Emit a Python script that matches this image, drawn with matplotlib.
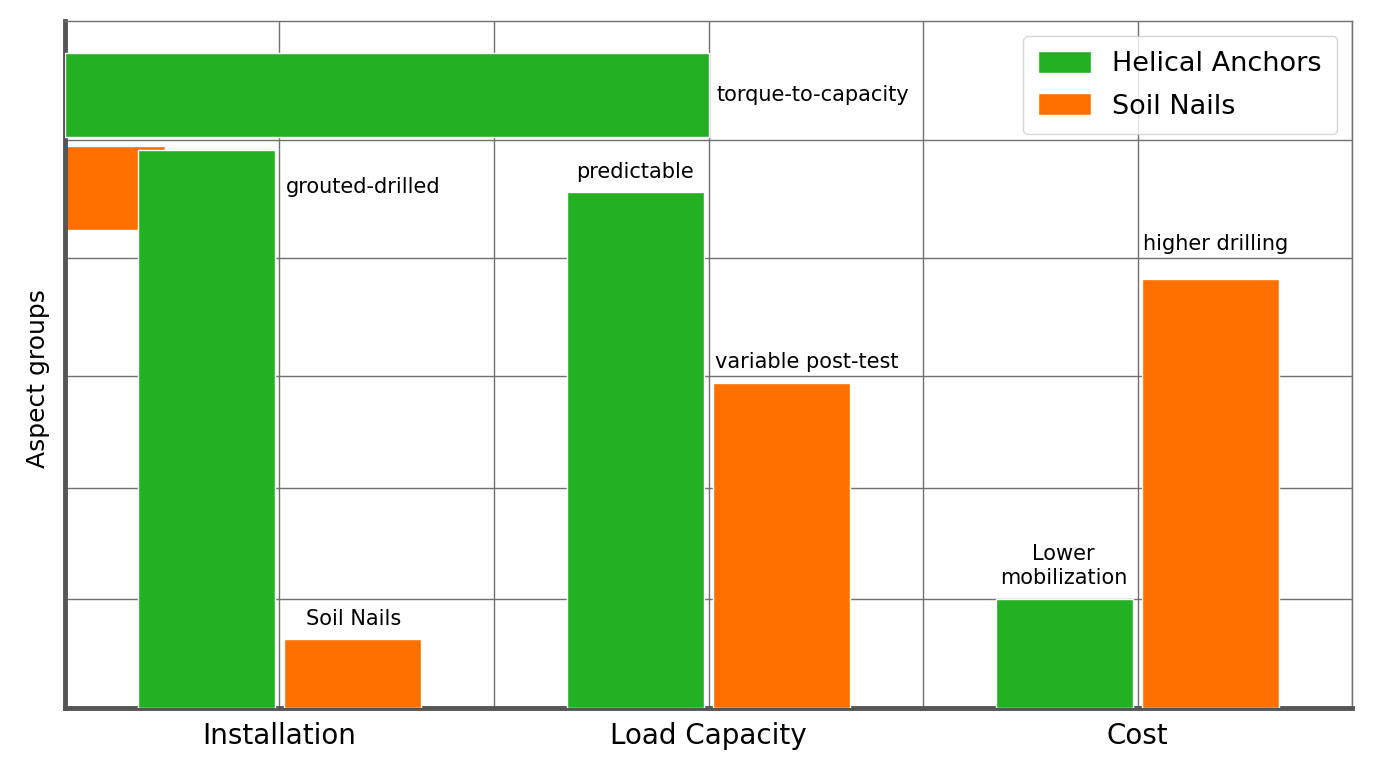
import numpy as np
import matplotlib.pyplot as plt

categories = ['Installation', 'Load Capacity', 'Cost']
helical = [5.07, 4.69, 0.99]
soil_nails = [0.63, 2.95, 3.90]

# horizontal bars that sit across the top of the plot
hbar_y = [5.57, 4.73]
hbar_len = [1.5, 0.234]

grid_y = [0.99, 2.0, 3.02, 4.09, 5.16]

notes = [
    ('grouted-drilled', 0.016, 4.74, 'left'),
    ('torque-to-capacity', 1.019, 5.57, 'left'),
    ('Soil Nails', 0.172, 0.81, 'center'),
    ('predictable', 0.828, 4.87, 'center'),
    ('variable post-test', 1.014, 3.145, 'left'),
    ('Lower\nmobilization', 1.827, 1.29, 'center'),
    ('higher drilling', 2.012, 4.22, 'left'),
]

green = '#23b023'
orange = '#ff7000'

fig = plt.figure(figsize=(13.76, 7.68), dpi=100)
ax = fig.add_axes([0.0472, 0.0781, 0.9354, 0.8946])

x = np.arange(len(categories))
w = 0.32
off = 0.17

ax.barh(hbar_y[1], hbar_len[1], height=0.764, left=-0.5, color=orange, edgecolor='white', linewidth=1, zorder=2)
ax.bar(x - off, helical, w, color=green, edgecolor='white', linewidth=1, label='Helical Anchors', zorder=3)
ax.bar(x + off, soil_nails, w, color=orange, edgecolor='white', linewidth=1, label='Soil Nails', zorder=3)
ax.barh(hbar_y[0], hbar_len[0], height=0.764, left=-0.5, color=green, edgecolor='white', linewidth=1, zorder=3)

for txt, tx, ty, ha in notes:
    ax.text(tx, ty, txt, ha=ha, va='center', fontsize=15, zorder=4)

ax.set_xlim(-0.5, 2.5)
ax.set_ylim(0, 6.245)
ax.set_xticks(x)
ax.set_xticklabels(categories, fontsize=20)
ax.set_xticks(np.arange(-0.5, 2.6, 0.5), minor=True)
ax.set_yticks(grid_y)
ax.set_yticklabels([])
ax.tick_params(which='both', length=0, pad=10)
ax.grid(True, which='both', color='#707070', linewidth=1, zorder=0)
ax.set_axisbelow(True)
ax.set_ylabel('Aspect groups', fontsize=18)
ax.yaxis.set_label_coords(-0.0117, 0.479)

for s in ['left', 'bottom']:
    ax.spines[s].set_linewidth(3.5)
    ax.spines[s].set_color('#555555')
for s in ['top', 'right']:
    ax.spines[s].set_linewidth(1)
    ax.spines[s].set_color('#707070')

ax.legend(loc='upper right', fontsize=19.5, handlelength=1.95, handleheight=0.85,
          labelspacing=0.6, borderpad=0.55, borderaxespad=0,
          bbox_to_anchor=(0.9883, 0.978))

fig.savefig('out.png', dpi=100)
